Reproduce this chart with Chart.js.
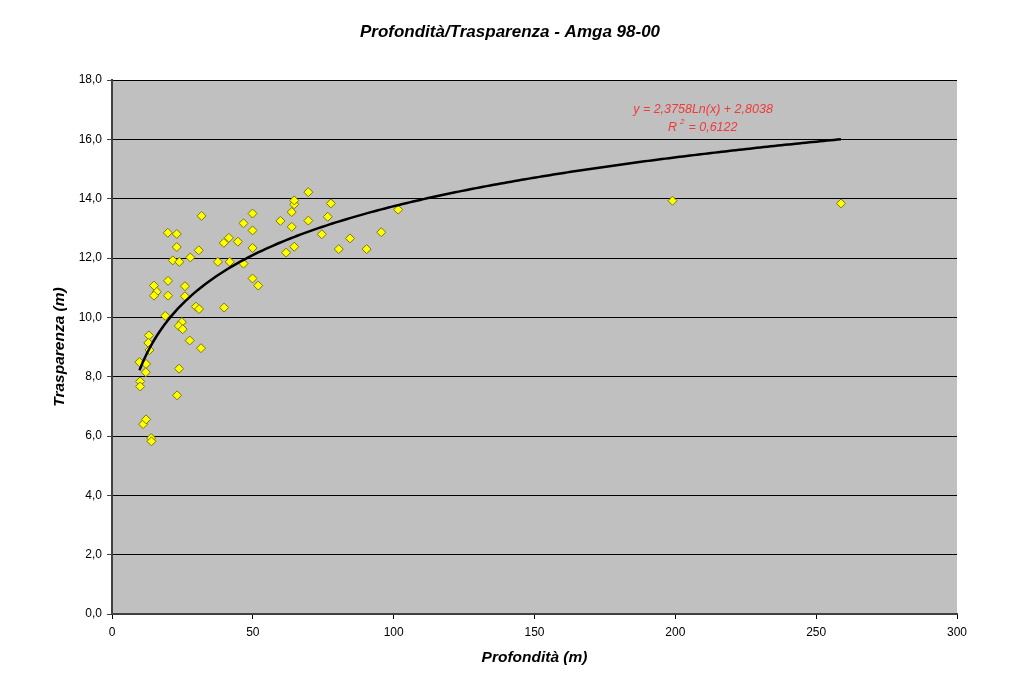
<!DOCTYPE html>
<html>
<head>
<meta charset="utf-8">
<script src="https://cdn.jsdelivr.net/npm/chart.js@4.4.0/dist/chart.umd.min.js"></script>
<style>
  html, body { margin: 0; padding: 0; background: #ffffff; }
  #wrap { width: 1024px; height: 679px; }
</style>
</head>
<body>
<div id="wrap"><canvas id="c" width="1024" height="679"></canvas></div>
<script>
// ---- data ----
const xDepth = [9.75, 12.1, 12.0, 10.0, 10.0, 11.05, 12.1, 13.9, 14.0, 13.1, 12.9, 13.3, 14.9, 15.9, 14.9,
  18.9, 19.9, 19.9, 19.8, 21.6, 23.0, 23.0, 23.9, 23.1, 23.8, 24.8, 23.7, 25.1, 25.9, 25.9,
  27.6, 27.8, 29.8, 30.9, 30.8, 31.6, 31.8, 37.6, 39.7, 39.8, 41.5, 41.8, 44.7, 46.7, 46.7,
  49.9, 49.9, 49.9, 49.9, 51.9, 59.8, 61.8, 63.8, 63.8, 64.7, 64.7, 64.7, 69.7, 69.7, 74.5,
  76.6, 77.7, 80.5, 84.5, 90.4, 95.6, 101.6, 199.0, 258.8];
const yTransparency = [8.49, 8.43, 8.15, 7.84, 7.67, 6.40, 6.56, 5.93, 5.82, 9.39, 9.14, 8.90, 11.07, 10.86, 10.73,
  10.05, 11.23, 10.73, 12.85, 11.92, 12.81, 12.37, 11.87, 7.37, 8.27, 9.84, 9.71, 9.60, 11.05, 10.71,
  9.22, 12.02, 10.36, 10.28, 12.26, 8.96, 13.42, 11.87, 12.51, 10.33, 12.68, 11.87, 12.55, 13.17, 11.81,
  13.50, 12.93, 12.34, 11.31, 11.07, 13.25, 12.18, 13.05, 13.55, 13.81, 13.94, 12.38, 14.22, 13.26, 12.80,
  13.39, 13.84, 12.30, 12.66, 12.30, 12.87, 13.63, 13.93, 13.84];
// logarithmic trend line shown in the chart: y = a*ln(x) + b
const trendA = 2.3758;
const trendB = 2.8038;
const chartTitle = "Profondità/Trasparenza - Amga 98-00";
const trendLabel = "y = 2,3758Ln(x) + 2,8038";
const r2Label = "0,6122";
const xTicks = [0, 50, 100, 150, 200, 250, 300];
const yTicks = [0, 2, 4, 6, 8, 10, 12, 14, 16, 18];

const scatterPts = xDepth.map((x, i) => ({ x: x, y: yTransparency[i] }));
const xMin = Math.min(...xDepth), xMax = Math.max(...xDepth);
const trendPts = [];
for (let i = 0; i <= 200; i++) {
  const x = xMin + (xMax - xMin) * i / 200;
  trendPts.push({ x: x, y: trendA * Math.log(x) + trendB });
}

const FONT = "'Liberation Sans', Arial, sans-serif";

const bgPlugin = {
  id: 'plotBg',
  beforeDraw(chart) {
    const { ctx, chartArea: a } = chart;
    ctx.save();
    ctx.fillStyle = '#C0C0C0';
    ctx.fillRect(a.left, a.top, a.right - a.left, a.bottom - a.top);
    ctx.restore();
  },
  afterDraw(chart) {
    const { ctx } = chart;
    ctx.save();
    // chart title
    ctx.fillStyle = '#000000';
    ctx.font = 'italic bold 17px ' + FONT;
    ctx.textAlign = 'center';
    ctx.textBaseline = 'middle';
    ctx.fillText(chartTitle, 510, 32);
    // trendline equation
    ctx.fillStyle = '#F03A3A';
    ctx.font = 'italic 12.5px ' + FONT;
    ctx.textAlign = 'center';
    ctx.fillText(trendLabel, 703, 110);
    ctx.textAlign = 'left';
    ctx.fillText('R', 668, 128);
    ctx.font = 'italic 8px ' + FONT;
    ctx.fillText('2', 680, 122);
    ctx.font = 'italic 12.5px ' + FONT;
    ctx.fillText(' = ' + r2Label, 685, 128);
    ctx.restore();
  }
};

new Chart(document.getElementById('c'), {
  type: 'scatter',
  data: {
    datasets: [
      {
        label: 'Trasparenza',
        data: scatterPts,
        pointStyle: 'rectRot',
        pointRadius: 4.5,
        pointHoverRadius: 4.5,
        backgroundColor: '#FFFF00',
        borderColor: '#7A7A00',
        borderWidth: 1,
        order: 2
      },
      {
        label: 'Log trend',
        type: 'line',
        data: trendPts,
        borderColor: '#000000',
        borderWidth: 2.5,
        pointRadius: 0,
        fill: false,
        tension: 0,
        order: 1
      }
    ]
  },
  options: {
    responsive: false,
    animation: false,
    layout: { padding: { top: 80, right: 67, bottom: 0, left: 0 } },
    plugins: {
      legend: { display: false },
      tooltip: { enabled: false },
      title: { display: false }
    },
    scales: {
      x: {
        type: 'linear',
        min: 0, max: 300,
        afterBuildTicks(scale) { scale.ticks = xTicks.map(v => ({ value: v })); },
        afterFit(scale) { scale.height = 65; },
        grid: { drawOnChartArea: false, drawTicks: true, tickLength: 5, color: '#000000' },
        border: { display: true, color: '#404040', width: 2 },
        ticks: { color: '#000000', font: { family: FONT, size: 12 }, padding: 6, maxRotation: 0 },
        title: {
          display: true,
          text: 'Profondità (m)',
          color: '#000000',
          font: { family: FONT, size: 15.5, style: 'italic', weight: 'bold' },
          padding: { top: 0, bottom: 12 }
        }
      },
      y: {
        type: 'linear',
        min: 0, max: 18,
        afterBuildTicks(scale) { scale.ticks = yTicks.map(v => ({ value: v })); },
        afterFit(scale) { scale.width = 112; },
        grid: { color: '#000000', lineWidth: 1, drawTicks: true, tickLength: 5, tickColor: '#404040' },
        border: { display: true, color: '#404040', width: 2 },
        ticks: {
          color: '#000000', font: { family: FONT, size: 12 }, padding: 5,
          callback: v => v.toFixed(1).replace('.', ',')
        },
        title: {
          display: true,
          text: 'Trasparenza (m)',
          color: '#000000',
          font: { family: FONT, size: 15.5, style: 'italic', weight: 'bold' },
          padding: { top: 50, bottom: 0 }
        }
      }
    }
  },
  plugins: [bgPlugin]
});
</script>
</body>
</html>
